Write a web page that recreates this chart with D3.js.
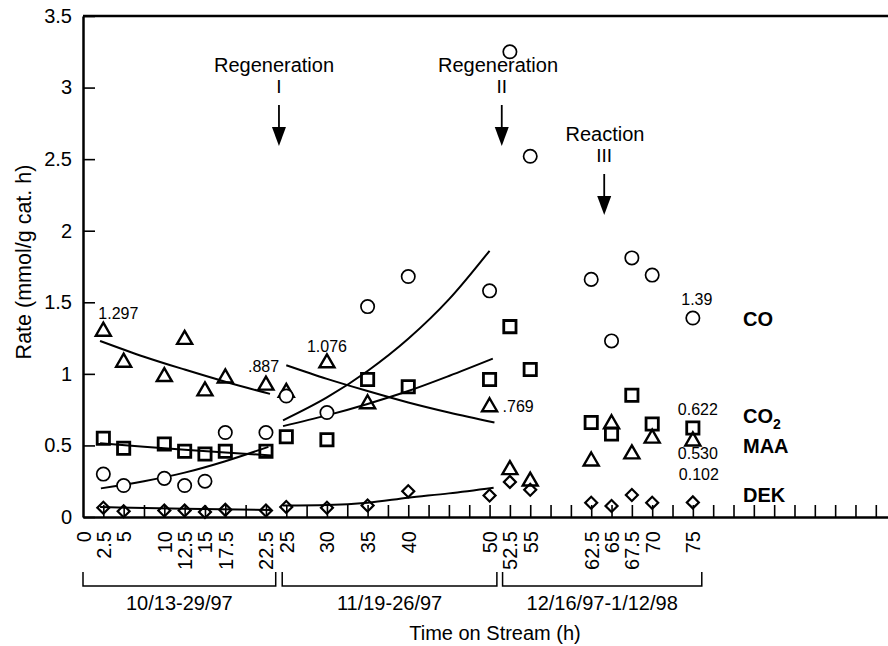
<!DOCTYPE html>
<html>
<head>
<meta charset="utf-8">
<script src="https://cdn.jsdelivr.net/npm/d3@7"></script>
<style>
  body { margin: 0; background: #fff; }
  svg { display: block; font-family: "Liberation Sans", Arial, sans-serif; }
</style>
</head>
<body>
<svg id="chart" width="888" height="646"></svg>
<script>
// sampling times (h) and rates (mmol/g cat. h)
const hours = [2.5, 5, 10, 12.5, 15, 17.5, 22.5, 25, 30, 35, 40, 50, 52.5, 55, 62.5, 65, 67.5, 70, 75];
const co = [0.30, 0.22, 0.27, 0.22, 0.25, 0.59, 0.59, 0.845, 0.73, 1.47, 1.68, 1.58, 3.25, 2.52, 1.66, 1.23, 1.81, 1.69, 1.39];
const co2 = [0.55, 0.48, 0.51, 0.46, 0.44, 0.46, 0.46, 0.56, 0.54, 0.96, 0.91, 0.96, 1.33, 1.03, 0.66, 0.58, 0.85, 0.65, 0.622];
const maa = [1.297, 1.08, 0.98, 1.24, 0.88, 0.97, 0.92, 0.87, 1.076, 0.79, null, 0.769, 0.33, 0.25, 0.39, 0.65, 0.44, 0.55, 0.530];
const dek = [0.065, 0.04, 0.045, 0.045, 0.035, 0.05, 0.045, 0.07, 0.065, 0.08, 0.18, 0.15, 0.245, 0.19, 0.10, 0.077, 0.154, 0.10, 0.102];

// fitted trend curves, [h, rate] pairs
const coFit1 = [[2.2, 0.20], [7.5, 0.25], [12.5, 0.31], [17.5, 0.39], [22.8, 0.49]];
const co2Fit1 = [[2.1, 0.515], [7.5, 0.49], [12.5, 0.47], [17.5, 0.45], [23.2, 0.43]];
const maaFit1 = [[2.1, 1.23], [7.5, 1.12], [12.5, 1.03], [17.5, 0.945], [23.0, 0.86]];
const dekFit1 = [[2.1, 0.07], [12.5, 0.058], [23.2, 0.049]];
const coFit2 = [[24.6, 0.675], [30, 0.835], [35, 1.02], [40, 1.245], [45, 1.52], [50, 1.86]];
const co2Fit2 = [[24.6, 0.635], [30, 0.71], [35, 0.79], [40, 0.88], [45, 0.985], [50.4, 1.106]];
const maaFit2 = [[25, 1.06], [30, 0.965], [35, 0.88], [40, 0.80], [45, 0.73], [50.6, 0.66]];
const dekFit2 = [[24.6, 0.08], [30, 0.084], [35, 0.10], [40, 0.135], [45, 0.165], [50.5, 0.205]];

const xLabels = [0, 2.5, 5, 10, 12.5, 15, 17.5, 22.5, 25, 30, 35, 40, 50, 52.5, 55, 62.5, 65, 67.5, 70, 75];
const yLabels = [0, 0.5, 1, 1.5, 2, 2.5, 3, 3.5];

const periods = ['10/13-29/97', '11/19-26/97', '12/16/97-1/12/98'];
const periodSpans = [[0, 23.7], [24.5, 50.9], [51.6, 76.1]];

const svg = d3.select('#chart');
const FONT = '"Liberation Sans", Arial, sans-serif';

const x = d3.scaleLinear().domain([0, 99]).range([83, 888]);
const y = d3.scaleLinear().domain([0, 3.5]).range([517, 16]);

/* ---------- frame & axes ---------- */
svg.append('line')
  .attr('x1', x(0)).attr('x2', x(99))
  .attr('y1', y(3.5)).attr('y2', y(3.5))
  .attr('stroke', '#000').attr('stroke-width', 2.5);

const xTicks = svg.append('g')
  .attr('transform', `translate(0,${y(0)})`)
  .call(d3.axisBottom(x).tickValues(d3.range(2.5, 98, 2.5)).tickSize(-12).tickSizeOuter(0).tickFormat(''));
xTicks.select('.domain').attr('stroke-width', 2.5);
xTicks.selectAll('.tick line').attr('stroke-width', 1.6);

const xText = svg.append('g')
  .attr('transform', `translate(0,${y(0)})`)
  .call(d3.axisBottom(x).tickValues(xLabels).tickSize(0).tickFormat((d) => d));
xText.select('.domain').remove();
xText.selectAll('text')
  .attr('transform', 'rotate(-90)')
  .attr('x', -14).attr('y', 0).attr('dy', '0.35em')
  .attr('text-anchor', 'end')
  .attr('font-size', 20).attr('font-family', FONT).attr('fill', '#000');

const yAxis = svg.append('g')
  .attr('transform', `translate(${x(0)},0)`)
  .call(d3.axisLeft(y).tickValues(yLabels).tickSize(-12).tickSizeOuter(0).tickPadding(11).tickFormat((d) => d));
yAxis.select('.domain').attr('stroke-width', 2.5);
yAxis.selectAll('.tick line').attr('stroke-width', 1.6);
yAxis.selectAll('text').attr('font-size', 20).attr('font-family', FONT).attr('fill', '#000');

svg.append('text')
  .attr('transform', 'translate(31,262) rotate(-90)')
  .attr('text-anchor', 'middle').attr('font-size', 21.5)
  .text('Rate (mmol/g cat. h)');

svg.append('text')
  .attr('x', 495).attr('y', 640)
  .attr('text-anchor', 'middle').attr('font-size', 20)
  .text('Time on Stream (h)');

// run brackets under the axis
periods.forEach((p, i) => {
  const [a, b] = periodSpans[i];
  svg.append('path')
    .attr('d', `M${x(a)},572V586H${x(b)}V572`)
    .attr('fill', 'none').attr('stroke', '#000').attr('stroke-width', 1.5);
  svg.append('text')
    .attr('x', (x(a) + x(b)) / 2).attr('y', 610)
    .attr('text-anchor', 'middle').attr('font-size', 20)
    .text(p);
});

/* ---------- trend curves ---------- */
const line = d3.line().x((d) => x(d[0])).y((d) => y(d[1])).curve(d3.curveMonotoneX);
[coFit1, co2Fit1, maaFit1, dekFit1, coFit2, co2Fit2, maaFit2, dekFit2].forEach((f) => {
  svg.append('path').attr('d', line(f))
    .attr('fill', 'none').attr('stroke', '#000').attr('stroke-width', 2);
});

/* ---------- markers ---------- */
const series = [
  { values: maa, type: d3.symbolTriangle, size: 98, fill: 'none', sw: 2.4, rot: 0 },
  { values: co2, type: d3.symbolSquare, size: 150, fill: 'none', sw: 2.8, rot: 0 },
  { values: co, type: d3.symbolCircle, size: 140, fill: '#fff', sw: 1.7, rot: 0 },
  { values: dek, type: d3.symbolSquare, size: 72, fill: 'none', sw: 2.2, rot: 45 },
];
series.forEach((s) => {
  svg.append('g')
    .selectAll('path')
    .data(hours.map((h, i) => [h, s.values[i]]).filter((d) => d[1] != null))
    .enter()
    .append('path')
    .attr('d', d3.symbol().type(s.type).size(s.size))
    .attr('transform', (d) => `translate(${x(d[0])},${y(d[1])}) rotate(${s.rot})`)
    .attr('fill', s.fill)
    .attr('stroke', '#000')
    .attr('stroke-width', s.sw);
});

/* ---------- value labels ---------- */
function valueLabel(h, v, txt, dx, dy, anchor) {
  svg.append('text')
    .attr('x', x(h) + dx).attr('y', y(v) + dy)
    .attr('text-anchor', anchor).attr('font-size', 16)
    .text(txt);
}
valueLabel(2.5, 1.297, '1.297', -5, -12, 'start');
valueLabel(22.5, 0.92, '.887', -18, -13, 'start');
valueLabel(30, 1.076, '1.076', 0, -11, 'middle');
valueLabel(50, 0.769, '.769', 13, 5, 'start');
valueLabel(75, 1.39, '1.39', 4, -13, 'middle');
valueLabel(75, 0.622, '0.622', 5, -13, 'middle');
valueLabel(75, 0.530, '0.530', 5, 18, 'middle');
valueLabel(75, 0.102, '0.102', 6, -22, 'middle');

/* ---------- species names ---------- */
const names = svg.append('g').attr('font-size', 20).attr('font-weight', 'bold');
names.append('text').attr('x', 743).attr('y', 326).text('CO');
const co2Text = names.append('text').attr('x', 743).attr('y', 423);
co2Text.append('tspan').text('CO');
co2Text.append('tspan').attr('dy', 6).attr('font-size', 14).text('2');
names.append('text').attr('x', 743).attr('y', 453).text('MAA');
names.append('text').attr('x', 743).attr('y', 502).text('DEK');

/* ---------- regeneration / reaction arrows ---------- */
function marker(h, title, numeral, top, textX) {
  const cx = x(h);
  svg.append('text').attr('x', textX).attr('y', top)
    .attr('text-anchor', 'middle').attr('font-size', 20).text(title);
  svg.append('text').attr('x', cx).attr('y', top + 21)
    .attr('text-anchor', 'middle').attr('font-size', 19).text(numeral);
  svg.append('line')
    .attr('x1', cx).attr('x2', cx).attr('y1', top + 33).attr('y2', top + 57)
    .attr('stroke', '#000').attr('stroke-width', 1.8);
  svg.append('path')
    .attr('d', `M${cx - 7},${top + 55}L${cx + 7},${top + 55}L${cx},${top + 74}Z`)
    .attr('fill', '#000');
}
marker(24.1, 'Regeneration', 'I', 72, 274);
marker(51.5, 'Regeneration', 'II', 72, 498);
marker(64.1, 'Reaction', 'III', 141, 605);
</script>
</body>
</html>
